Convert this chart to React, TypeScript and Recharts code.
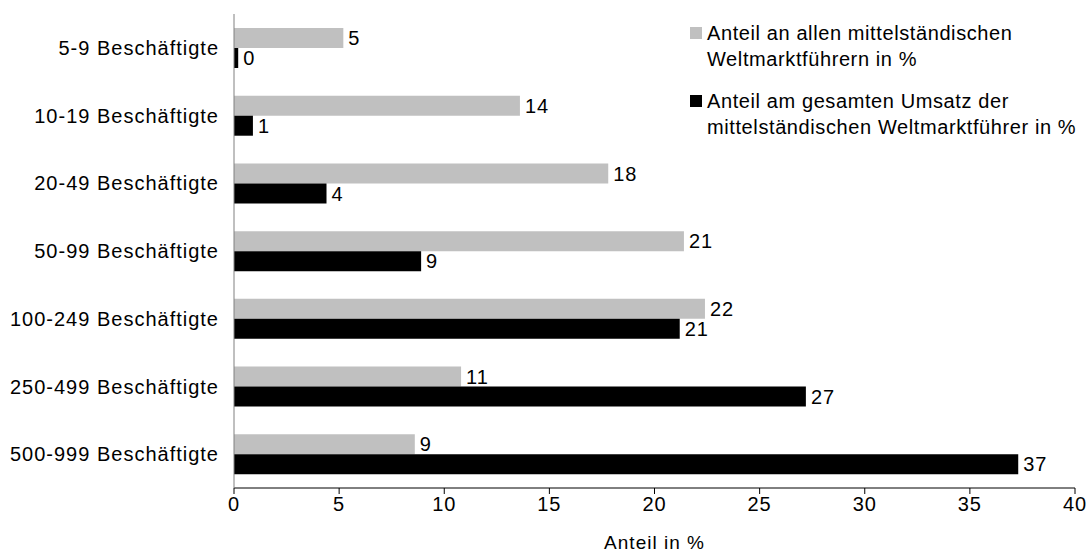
import { BarChart, Bar, XAxis, YAxis, LabelList } from 'recharts';

const categories = [
  '5-9 Beschäftigte',
  '10-19 Beschäftigte',
  '20-49 Beschäftigte',
  '50-99 Beschäftigte',
  '100-249 Beschäftigte',
  '250-499 Beschäftigte',
  '500-999 Beschäftigte',
];

// Anteil an allen mittelständischen Weltmarktführern in %
const anteilFirmen = [5.2, 13.6, 17.8, 21.4, 22.4, 10.8, 8.6];
// Anteil am gesamten Umsatz in %
const anteilUmsatz = [0.2, 0.9, 4.4, 8.9, 21.2, 27.2, 37.3];

const xTicks = [0, 5, 10, 15, 20, 25, 30, 35, 40];

const seriesNames = [
  ['Anteil an allen mittelständischen', 'Weltmarktführern in %'],
  ['Anteil am gesamten Umsatz der', 'mittelständischen Weltmarktführer in %'],
];
const seriesColors = ['#c0c0c0', '#000000'];

const data = categories.map((name, i) => ({
  name,
  firmen: anteilFirmen[i],
  umsatz: anteilUmsatz[i],
}));

const FONT = '"Liberation Sans", Arial, sans-serif';
const textStyle = { fontFamily: FONT, fontSize: 20, fill: '#000', letterSpacing: 1 };

function LegendBox() {
  return (
    <div
      style={{
        position: 'absolute',
        top: 20,
        left: 690,
        fontFamily: FONT,
        fontSize: 20,
        letterSpacing: 0.6,
        color: '#000',
        lineHeight: '26px',
      }}
    >
      {seriesNames.map((lines, i) => (
        <div key={i} style={{ display: 'flex', marginBottom: 16 }}>
          <div style={{ width: 12, height: 12, background: seriesColors[i], marginTop: 7, marginRight: 5, flexShrink: 0 }} />
          <div style={{ whiteSpace: 'nowrap' }}>
            {lines.map((l, j) => (
              <div key={j}>{l}</div>
            ))}
          </div>
        </div>
      ))}
    </div>
  );
}

export default function App() {
  return (
    <div style={{ position: 'absolute', left: 0, top: 0, width: 1088, height: 553, background: '#fff' }}>
      <BarChart
        width={1088}
        height={553}
        data={data}
        layout="vertical"
        margin={{ top: 14, right: 13, bottom: 0, left: 0 }}
        barGap={0}
        barSize={20}
      >
        <XAxis
          type="number"
          domain={[0, 40]}
          ticks={xTicks}
          interval={0}
          axisLine={{ stroke: '#000' }}
          tickLine={{ stroke: '#000' }}
          tickSize={6}
          tickMargin={3}
          tick={textStyle}
          height={65}
          label={{ value: 'Anteil in %', position: 'insideBottom', offset: 4, style: { ...textStyle, fontSize: 19 } }}
        />
        <YAxis
          type="category"
          dataKey="name"
          width={234}
          axisLine={{ stroke: '#808080' }}
          tickLine={false}
          tickSize={0}
          tickMargin={15}
          tick={textStyle}
        />
        <Bar dataKey="firmen" fill={seriesColors[0]} isAnimationActive={false}>
          <LabelList dataKey="firmen" position="right" offset={5} formatter={(v: any) => Math.round(v)} style={textStyle} />
        </Bar>
        <Bar dataKey="umsatz" fill={seriesColors[1]} isAnimationActive={false}>
          <LabelList dataKey="umsatz" position="right" offset={5} formatter={(v: any) => Math.round(v)} style={textStyle} />
        </Bar>
      </BarChart>
      <LegendBox />
    </div>
  );
}
